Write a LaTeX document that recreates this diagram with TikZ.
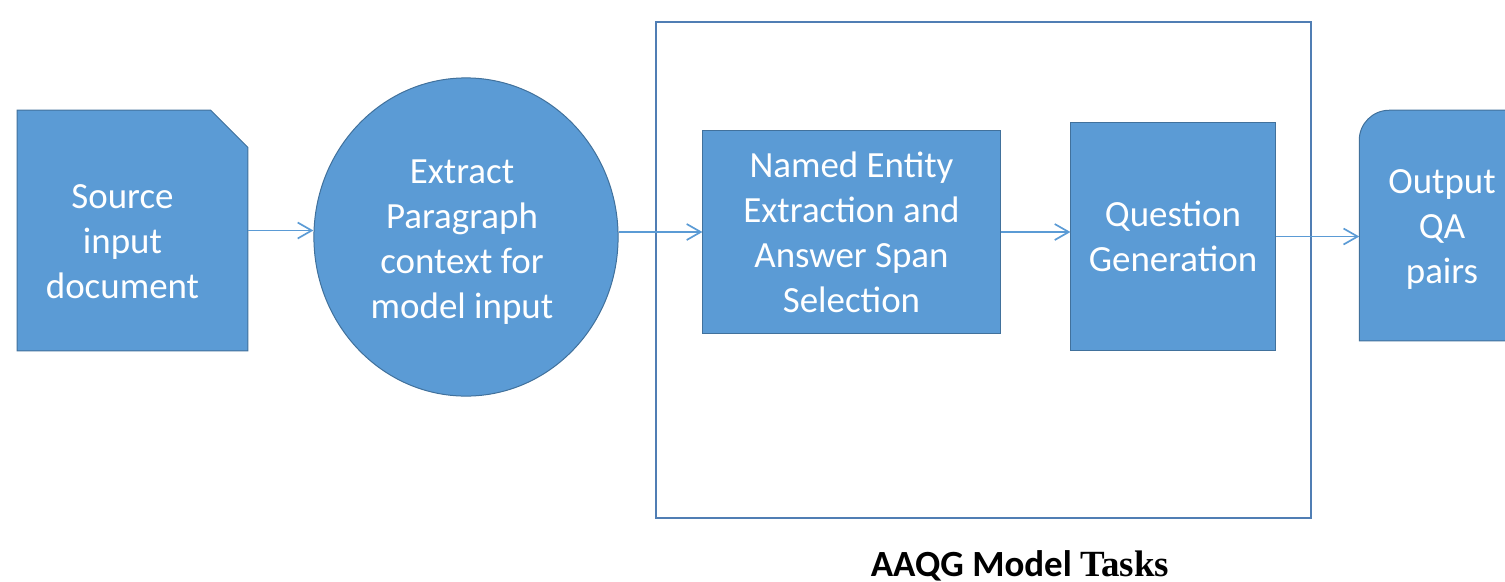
\documentclass[tikz,border=0pt]{standalone}
\usepackage{fontspec}
\setmainfont{Carlito}
\newfontfamily\timesfont{Liberation Serif}
\usetikzlibrary{arrows.meta, shapes.geometric, positioning, backgrounds}
\definecolor{BoxFill}{RGB}{91,155,213}
\definecolor{BoxLine}{RGB}{65,113,156}
\definecolor{FrameLine}{RGB}{80,126,180}

\begin{document}
\begin{tikzpicture}[
        x=0.01cm, y=-0.01cm,
        txt/.style={text=white, align=center, inner sep=0pt,
                    font=\fontsize{10.5}{12.8}\selectfont},
        blk/.style={txt, fill=BoxFill, draw=BoxLine, line width=0.01cm},
        shp/.style={fill=BoxFill, draw=BoxLine, line width=0.01cm},
        flow/.style={draw=BoxFill, line width=0.017cm,
                     -{Straight Barb[length=0.14cm,width=0.16cm]}}
      ]
        \useasboundingbox (0,0) rectangle (1505,581);
        \clip (0,0) rectangle (1505,581);

        % task frame
        \node[draw=FrameLine, line width=0.02cm, minimum width=6.55cm,
              minimum height=4.96cm, inner sep=0pt] (tasks) at (983.5,270) {};
        \node[font=\fontsize{10.5}{12}\selectfont\bfseries] (tasklbl) at (1020,566)
          {AAQG Model {\timesfont Tasks}};

        % blocks
        \node[txt, minimum width=2.29cm, minimum height=2.39cm,
              label={[txt, xshift=-0.1cm, yshift=-0.115cm]center:Source\\input\\document}]
          (src) at (132.5,230.5) {};
        \node[blk, ellipse, minimum width=3.04cm, minimum height=3.18cm,
              label={[txt, xshift=-0.04cm, yshift=-0.05cm]center:Extract\\Paragraph\\context for\\model input}]
          (circ) at (466,237) {};
        \node[blk, rectangle, minimum width=2.97cm, minimum height=2.02cm] (ner) at (851.5,232)
          {Named Entity\\Extraction and\\Answer Span\\Selection};
        \node[blk, rectangle, minimum width=2.04cm, minimum height=2.27cm] (qg) at (1173,236.5)
          {Question\\Generation};
        \node[txt, minimum width=1.64cm, minimum height=2.29cm,
              label={[txt, yshift=-0.04cm]center:Output\\QA\\pairs}]
          (out) at (1442,225.5) {};
        \begin{scope}[on background layer]
          \filldraw[shp]
            (src.south west) -- (src.north west) -- ([xshift=-0.37cm]src.north east)
            -- ([yshift=-0.37cm]src.north east) -- (src.south east) -- cycle;
          \filldraw[shp]
            (out.south west) -- ([yshift=-0.3cm]out.north west)
            arc[start angle=180, end angle=90, radius=0.3cm]
            -- (out.north east) -- (out.south east) -- cycle;
        \end{scope}

        % connectors
        \draw[flow] (src.east) -- (src.east -| circ.west);
        \draw[flow] (circ.east |- ner.west) -- (ner.west);
        \draw[flow] (ner.east) -- (ner.east -| qg.west);
        \draw[flow] (qg.east) -- (qg.east -| out.west);
      \end{tikzpicture}
\end{document}
